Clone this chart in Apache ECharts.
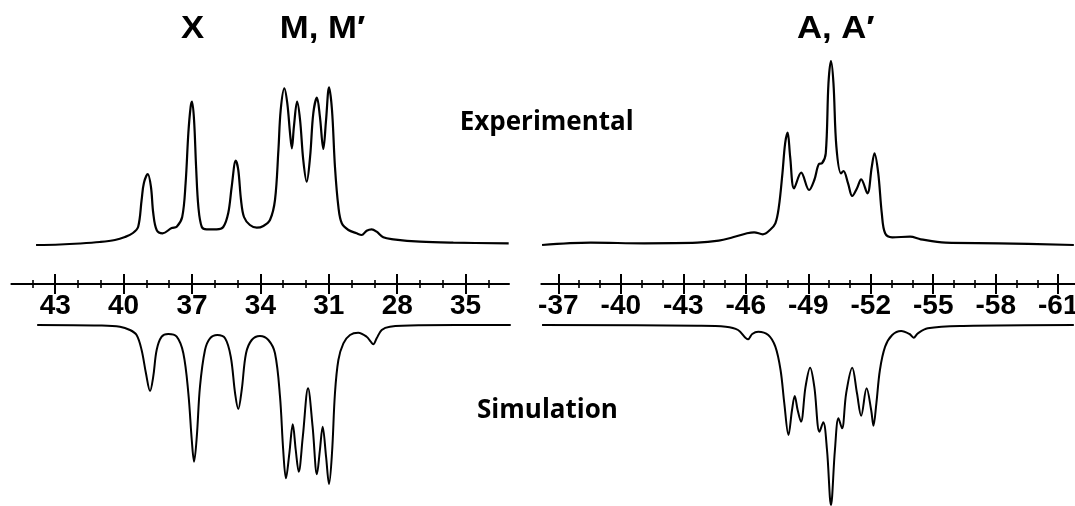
<!DOCTYPE html>
<html><head><meta charset="utf-8">
<script src="https://cdn.jsdelivr.net/npm/echarts@6/dist/echarts.min.js"></script>
<style>html,body{margin:0;padding:0;background:#fff}#c{width:1075px;height:506px}</style>
</head><body><div id="c"></div>
<script>
// ---------------- DATA (chemical shift, intensity) ----------------
const expLeft = [[43.84,-3],[42.79,-2.5],[41.91,-1.5],[41.04,0],[40.38,2],[39.94,5],[39.59,9],[39.36,15.3],[39.21,42],[39.11,59],[38.94,68],[38.80,55],[38.70,29],[38.55,12],[38.29,8.7],[37.89,14],[37.67,15.3],[37.43,25],[37.28,59],[37.16,109],[37.06,135],[37.00,140.3],[36.91,122],[36.82,75],[36.72,35],[36.57,15],[36.36,12.7],[35.92,12.7],[35.63,15],[35.41,29],[35.26,55],[35.08,81.3],[34.97,72],[34.85,42],[34.72,25],[34.46,17],[34.16,14.3],[33.87,16],[33.58,22],[33.36,42],[33.21,92],[33.11,132],[32.95,153.7],[32.82,138.7],[32.70,108.7],[32.62,93.7],[32.53,115.3],[32.39,140.3],[32.26,122],[32.12,82],[31.97,60.3],[31.82,85.3],[31.68,128.7],[31.52,144.3],[31.39,125.3],[31.24,93],[31.12,122],[30.99,154.7],[30.86,132],[30.73,75.3],[30.58,35.3],[30.43,18.7],[30.14,12],[29.78,8.7],[29.56,7],[29.34,11.3],[29.12,12.7],[28.90,10.3],[28.61,4.7],[28.17,2.7],[27.00,0.3],[25.54,-0.7],[23.11,-1.3]];
const simLeft = [[43.79,0],[41.04,-0.5],[40.16,-1.7],[39.72,-5],[39.43,-10],[39.21,-25],[39.02,-48.3],[38.84,-66],[38.70,-51.7],[38.55,-25],[38.33,-11.7],[38.04,-9],[37.67,-11.7],[37.38,-28.3],[37.16,-68.3],[37.01,-115],[36.91,-136.7],[36.79,-111.7],[36.65,-61.7],[36.43,-25],[36.21,-13.3],[35.89,-10],[35.55,-13.3],[35.30,-31.7],[35.11,-68.3],[34.97,-84],[34.82,-65],[34.63,-28.3],[34.38,-15],[34.02,-11],[33.65,-15],[33.36,-28.3],[33.14,-71.7],[33.00,-125],[32.88,-153.3],[32.73,-128.3],[32.58,-99.3],[32.45,-125],[32.32,-146.7],[32.14,-111.7],[31.91,-63.3],[31.71,-101.7],[31.52,-149.3],[31.39,-125],[31.27,-101.7],[31.12,-131.7],[30.99,-159],[30.86,-128.3],[30.73,-68.3],[30.58,-35],[30.36,-18.3],[30.07,-10],[29.71,-7.7],[29.34,-11.7],[29.16,-16.7],[29.05,-19.3],[28.90,-13.3],[28.68,-5],[28.32,-1.7],[27.00,-0.3],[23.02,0]];
const expRight = [[-36.22,-3],[-38.56,-0.7],[-41.12,-1.3],[-43.67,-0.7],[-44.70,1.3],[-45.38,4.7],[-46.06,8.7],[-46.40,9.7],[-46.82,7.7],[-47.16,12],[-47.42,18.7],[-47.59,35.3],[-47.76,68.7],[-47.89,98.7],[-48.01,109.3],[-48.13,85.3],[-48.32,53.7],[-48.66,69.3],[-49.04,52],[-49.29,62],[-49.51,78],[-49.66,78.7],[-49.84,88.7],[-49.97,158.7],[-50.09,181],[-50.21,158.7],[-50.35,95.3],[-50.57,68.7],[-50.69,71],[-50.91,58.7],[-51.11,46],[-51.34,53.7],[-51.54,62.7],[-51.84,48.7],[-52.05,75.3],[-52.18,88.7],[-52.36,68.7],[-52.53,28.7],[-52.69,8.7],[-53.03,4.7],[-53.89,5.3],[-54.40,2.7],[-55.59,-0.7],[-58.14,-1.3],[-61.75,-3]];
const simRight = [[-36.22,0],[-43.67,-0.7],[-45.04,-1.7],[-45.63,-5],[-46.11,-14.3],[-46.31,-9],[-46.60,-6.7],[-47.08,-10],[-47.42,-21.7],[-47.67,-45],[-47.85,-78.3],[-48.05,-110],[-48.22,-85],[-48.35,-71],[-48.49,-85],[-48.65,-96.7],[-48.87,-61.7],[-49.09,-42.7],[-49.29,-61.7],[-49.54,-106.7],[-49.72,-97.3],[-49.90,-125],[-50.09,-180],[-50.28,-125],[-50.45,-93.3],[-50.62,-103.3],[-50.82,-68.3],[-51.11,-42.7],[-51.34,-68.3],[-51.54,-90.7],[-51.80,-63.3],[-52.02,-85],[-52.13,-100.7],[-52.27,-78.3],[-52.44,-45],[-52.69,-21.7],[-53.03,-10],[-53.46,-6],[-53.86,-9],[-54.06,-12.7],[-54.26,-8.3],[-54.74,-3.3],[-56.44,-1],[-61.75,0]];

const leftMajor = [43,40,37,34,31,28,25];
const leftMajorLabels = ['43','40','37','34','31','28','35'];
const leftMinor = [44,42,41,39,38,36,35,33,32,30,29,27,26,24];
const rightMajor = [-37,-40,-43,-46,-49,-52,-55,-58,-61];
const rightMajorLabels = ['-37','-40','-43','-46','-49','-52','-55','-58','-61'];
const rightMinor = [-38,-39,-41,-42,-44,-45,-47,-48,-50,-51,-53,-54,-56,-57,-59,-60];

const groupLabels = ['X', 'M, M\u2032', 'A, A\u2032'];
const panelTitles = ['Experimental', 'Simulation'];

// ---------------- LAYOUT ----------------
const L = {refV:43, refPx:55.2, ppu:22.8};
const R = {refV:-37, refPx:558.3, ppu:20.83};
function vAt(s, px){ return s.refV - (px - s.refPx) / s.ppu; }

const grids = [], xAxes = [], yAxes = [], series = [];
function addGrid(top, height, left, right, ymin, ymax){
  grids.push({left:left, top:top, width:right-left, height:height, containLabel:false, outerBoundsMode:'none'});
  const gi = grids.length - 1;
  yAxes.push({type:'value', gridIndex:gi, min:ymin, max:ymax, show:false});
  return gi;
}
function hiddenX(gi, s, left, right){
  xAxes.push({type:'value', gridIndex:gi, inverse:true, min:vAt(s,right), max:vAt(s,left), show:false});
  return xAxes.length - 1;
}
function addSeries(data, xi, yi, w){
  series.push({type:'line', data:data, xAxisIndex:xi, yAxisIndex:yi, showSymbol:false, symbol:'none',
    smooth:0.35, lineStyle:{color:'#000', width:w}, silent:true, clip:false});
}
const tickFont = "'Liberation Sans',Arial,sans-serif";
function axisSet(gi, s, left, right, majors, labels, minors){
  const base = {type:'value', gridIndex:gi, inverse:true, min:vAt(s,right), max:vAt(s,left), position:'bottom', splitLine:{show:false}};
  xAxes.push(Object.assign({}, base, {
    axisLine:{show:true, onZero:false, lineStyle:{color:'#000', width:2}},
    axisTick:{show:true, inside:false, length:10, customValues:majors, lineStyle:{color:'#000', width:2}},
    axisLabel:{show:true, customValues:majors, margin:8, color:'#000', fontSize:28, fontWeight:'bold', fontFamily:tickFont, lineHeight:28,
      hideOverlap:false, showMinLabel:true, showMaxLabel:true,
      formatter:function(v){ const i = majors.indexOf(v); return i >= 0 ? labels[i] : ''; }}
  }));
  xAxes.push(Object.assign({}, base, {axisLine:{show:false, onZero:false},
    axisTick:{show:true, inside:true, length:10, customValues:majors, lineStyle:{color:'#000', width:2}}, axisLabel:{show:false}}));
  xAxes.push(Object.assign({}, base, {axisLine:{show:false, onZero:false},
    axisTick:{show:true, inside:false, length:4, customValues:minors, lineStyle:{color:'#000', width:1.6}}, axisLabel:{show:false}}));
  xAxes.push(Object.assign({}, base, {axisLine:{show:false, onZero:false},
    axisTick:{show:true, inside:true, length:4, customValues:minors, lineStyle:{color:'#000', width:1.6}}, axisLabel:{show:false}}));
}

// left panel
let g = addGrid(40, 210, 30, 515, -8, 202);
let xi = hiddenX(g, L, 30, 515); addSeries(expLeft, xi, g, 2.2);
g = addGrid(318, 190, 30, 515, -183, 7);
xi = hiddenX(g, L, 30, 515); addSeries(simLeft, xi, g, 2);
g = addGrid(283, 1, 11.4, 509, 0, 1);
axisSet(g, L, 11.4, 509, leftMajor, leftMajorLabels, leftMinor);
// right panel
g = addGrid(40, 210, 535, 1075, -8, 202);
xi = hiddenX(g, R, 535, 1075); addSeries(expRight, xi, g, 2.2);
g = addGrid(318, 190, 535, 1075, -183, 7);
xi = hiddenX(g, R, 535, 1075); addSeries(simRight, xi, g, 2);
g = addGrid(283, 1, 541.3, 1075, 0, 1);
axisSet(g, R, 541.3, 1075, rightMajor, rightMajorLabels, rightMinor);

const headFont = "bold 31px 'Liberation Sans', Arial, sans-serif";
const titleFont = "bold 26px 'Open Sans', 'Noto Sans', sans-serif";
function txt(t, x, y, font, sx){
  return {type:'text', x:x, y:y, scaleX:sx || 1, silent:true,
    style:{text:t, font:font, fill:'#000', textAlign:'center', textVerticalAlign:'middle'}};
}
const option = {
  animation:false,
  backgroundColor:'#fff',
  grid:grids, xAxis:xAxes, yAxis:yAxes, series:series,
  graphic:[
    txt(groupLabels[0], 192.5, 29.5, headFont, 1.12),
    txt(groupLabels[1], 322.5, 29.5, headFont, 1.12),
    txt(groupLabels[2], 835.8, 29.5, headFont, 1.12),
    txt(panelTitles[0], 546.7, 122.5, titleFont),
    txt(panelTitles[1], 547.5, 410.5, titleFont)
  ]
};
const chart = echarts.init(document.getElementById('c'), null, {renderer:'canvas'});
chart.setOption(option);
</script></body></html>
